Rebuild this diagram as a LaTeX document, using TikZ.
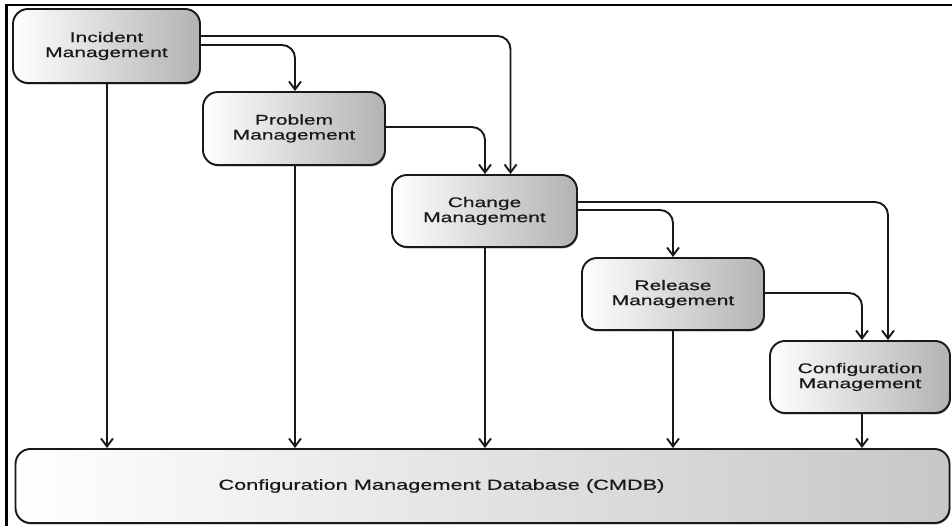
\documentclass[tikz,border=0pt]{standalone}
\usepackage{fontspec}
\newfontfamily\lab[FakeStretch=1.5,FakeBold=0.6]{Liberation Sans}
\usetikzlibrary{arrows.meta,shadows}
\begin{document}
\begin{tikzpicture}[x=1pt,y=-1pt,
  box/.style={draw=black!90, line width=1.9pt, rounded corners=15pt,
    left color=white, right color=black!30,
    drop shadow={shadow xshift=0.8pt, shadow yshift=-1.4pt, fill=black!55, opacity=0.85},
    font=\lab\fontsize{14}{15}\selectfont, text=black!90, align=center,
    inner sep=0pt},
  arr/.style={draw=black!90, line width=1.9pt, rounded corners=13pt,
    -{Straight Barb[length=8pt,width=12pt,line width=1.9pt]}}]
\useasboundingbox (0,0) rectangle (952,526);
\fill[white] (0,0) rectangle (952,526);
\draw[line width=2.5pt] (6.5,526) -- (6.5,5) -- (952,5);
\node[box, minimum width=187pt, minimum height=74pt] (inc) at (106.5,46) {Incident\\Management};
\node[box, minimum width=182pt, minimum height=73pt] (prob) at (294,128.5) {Problem\\Management};
\node[box, minimum width=185pt, minimum height=72pt] (chg) at (484.5,211) {Change\\Management};
\node[box, minimum width=182pt, minimum height=72pt] (rel) at (673,294) {Release\\Management};
\node[box, minimum width=180pt, minimum height=72pt] (cfg) at (860,377) {Configuration\\Management};
\node[box, right color=black!22, minimum width=934pt, minimum height=74pt] (cmdb) at (482.5,486) {};
\node[font=\lab\fontsize{14.5}{15}\selectfont, text=black!90, inner sep=0pt] (cmdbt) at (441.5,486) {Configuration Management Database (CMDB)};
% vertical connectors
\draw[arr] ([xshift=0.5pt]inc.south) -- ([xshift=0.5pt]inc.south |- cmdb.north);
\draw[arr] ([xshift=1pt]prob.south) -- ([xshift=1pt]prob.south |- cmdb.north);
\draw[arr] ([xshift=0.5pt]chg.south) -- ([xshift=0.5pt]chg.south |- cmdb.north);
\draw[arr] (rel.south) -- (rel.south |- cmdb.north);
\draw[arr] ([xshift=2pt]cfg.south) -- ([xshift=2pt]cfg.south |- cmdb.north);
% horizontal connectors
\draw[arr] ([yshift=1pt]inc.east) -| ([xshift=1pt]prob.north);
\draw[arr] ([yshift=10pt]inc.east) -| ([xshift=26pt]chg.north);
\draw[arr] ([yshift=1.5pt]prob.east) -| ([xshift=0.5pt]chg.north);
\draw[arr] ([yshift=1pt]chg.east) -| (rel.north);
\draw[arr] ([yshift=9pt]chg.east) -| ([xshift=28pt]cfg.north);
\draw[arr] ([yshift=1pt]rel.east) -| ([xshift=2pt]cfg.north);
\end{tikzpicture}
\end{document}
